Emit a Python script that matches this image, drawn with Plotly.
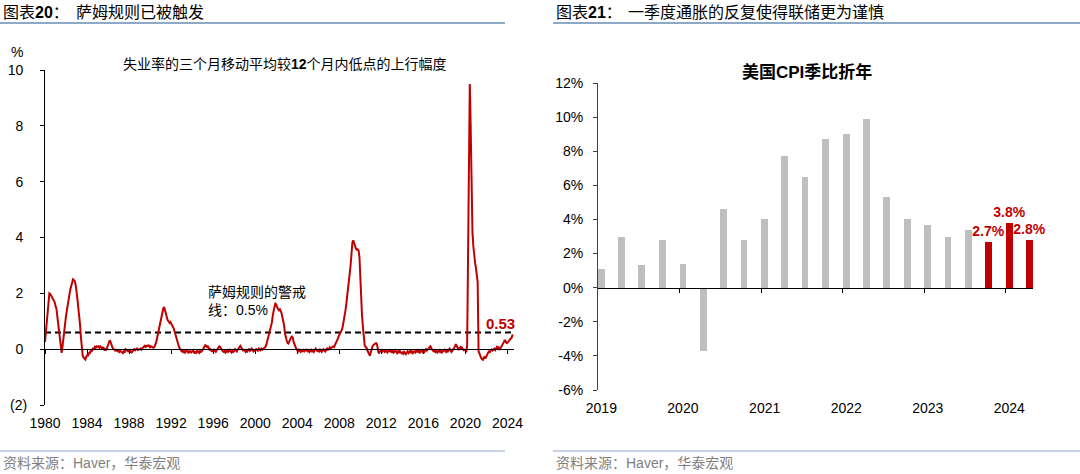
import pandas as pd
import plotly.graph_objects as go

# ---------------- data: left panel (Sahm-rule style indicator, monthly, %) ----------------
SAHM_START = "1980-01-01"
sahm_1980s = [
    0.26, 0.60, 0.95, 1.30, 1.65, 2.00, 1.98, 1.93, 1.88, 1.82, 1.75, 1.69,
    1.55, 1.45, 1.20, 0.92, 0.60, 0.32, 0.05, -0.13, 0.10, 0.44, 0.75, 0.98,
    1.20, 1.40, 1.64, 1.80, 1.97, 2.15, 2.30, 2.42, 2.50, 2.47, 2.44, 2.30,
    2.10, 1.80, 1.50, 1.27, 0.90, 0.44, 0.10, -0.21, -0.30, -0.33, -0.37, -0.28,
    -0.20, -0.25, -0.12, -0.17, -0.05, -0.10, 0.02, 0.05, -0.02, 0.08, 0.05, 0.10,
    0.08, 0.10, 0.05, 0.10, 0.07, 0.02, 0.06, 0.04, -0.04, 0.00, -0.02, 0.05,
    0.12, 0.22, 0.32, 0.25, 0.12, 0.06, 0.02, 0.00, -0.05, -0.02, -0.04, -0.08,
    -0.05, -0.10, -0.06, -0.08, -0.12, -0.14, -0.08, -0.10, 0.00, -0.03, -0.06, -0.08,
    -0.06, -0.02, -0.10, -0.12, -0.08, -0.05, 0.00, -0.04, -0.02, 0.02, -0.03, 0.00,
    0.00, 0.02, -0.02, 0.03, 0.07, 0.10, 0.12, 0.08, 0.12, 0.11, 0.14, 0.13,
]
sahm_1990s = [
    0.05, 0.10, 0.08, 0.06, 0.05, 0.08, 0.14, 0.25, 0.40, 0.55, 0.65, 0.85,
    1.05, 1.20, 1.33, 1.45, 1.51, 1.40, 1.25, 1.12, 1.04, 1.00, 0.95, 0.98,
    0.90, 0.86, 0.80, 0.74, 0.62, 0.50, 0.42, 0.30, 0.18, 0.08, 0.02, -0.05,
    -0.08, -0.06, -0.10, -0.05, -0.12, -0.08, -0.04, -0.10, -0.14, -0.06, -0.10, -0.12,
    -0.08, -0.04, -0.10, -0.16, -0.08, -0.12, -0.05, -0.10, -0.13, -0.06, -0.10, -0.08,
    -0.02, 0.04, 0.10, 0.14, 0.12, 0.08, 0.10, 0.02, -0.02, 0.00, -0.06, -0.04,
    -0.08, -0.02, -0.06, -0.10, -0.04, 0.00, 0.05, 0.10, 0.08, 0.02, -0.04, -0.08,
    -0.10, -0.06, -0.12, -0.08, -0.04, -0.10, -0.06, -0.02, -0.08, -0.12, -0.06, -0.10,
    -0.06, 0.00, -0.04, -0.08, -0.02, 0.04, 0.08, 0.12, 0.06, 0.00, -0.04, -0.02,
    -0.06, -0.10, -0.04, -0.08, -0.02, 0.00, -0.06, -0.03, 0.02, -0.04, -0.08, -0.05,
]
sahm_2000s = [
    -0.04, 0.00, -0.03, -0.06, 0.02, 0.00, -0.04, 0.02, -0.02, 0.00, 0.03, 0.06,
    0.10, 0.20, 0.32, 0.44, 0.55, 0.65, 0.74, 0.95, 1.20, 1.40, 1.52, 1.63,
    1.60, 1.50, 1.42, 1.40, 1.45, 1.38, 1.30, 1.15, 1.00, 0.85, 0.56, 0.40,
    0.30, 0.22, 0.20, 0.28, 0.38, 0.42, 0.45, 0.40, 0.25, 0.14, 0.06, 0.00,
    -0.04, -0.08, -0.02, -0.06, -0.10, -0.04, -0.07, -0.03, -0.08, -0.05, -0.02, -0.06,
    -0.08, -0.04, -0.10, -0.06, -0.02, -0.08, -0.05, -0.10, -0.04, 0.02, -0.03, -0.07,
    -0.04, -0.08, -0.02, -0.06, -0.10, -0.05, 0.00, -0.04, -0.08, -0.03, 0.02, -0.02,
    0.00, 0.06, 0.02, 0.05, 0.08, 0.10, 0.08, 0.14, 0.20, 0.28, 0.35, 0.44,
    0.50, 0.56, 0.62, 0.70, 0.82, 0.98, 1.15, 1.38, 1.62, 1.85, 2.10, 2.45,
    2.75, 3.06, 3.45, 3.83, 3.90, 3.77, 3.70, 3.60, 3.56, 3.58, 3.54, 3.30,
]
sahm_2010s = [
    2.58, 1.63, 1.20, 0.80, 0.45, 0.14, 0.08, 0.06, -0.04, -0.10, -0.16, -0.24,
    -0.10, 0.03, 0.10, 0.15, 0.18, 0.20, 0.22, 0.18, 0.05, -0.15, -0.10, -0.06,
    -0.04, -0.08, -0.03, -0.06, -0.10, -0.05, -0.08, -0.12, -0.06, -0.03, -0.08, -0.05,
    -0.10, -0.06, -0.12, -0.08, -0.04, -0.10, -0.14, -0.08, -0.12, -0.06, -0.10, -0.15,
    -0.12, -0.16, -0.10, -0.14, -0.18, -0.12, -0.08, -0.14, -0.10, -0.06, -0.12, -0.08,
    -0.14, -0.10, -0.06, -0.12, -0.08, -0.04, -0.10, -0.06, -0.12, -0.08, -0.04, -0.10,
    -0.06, -0.10, -0.04, 0.00, -0.05, 0.00, 0.03, 0.06, 0.10, 0.04, -0.02, -0.06,
    -0.08, -0.04, -0.10, -0.06, -0.12, -0.08, -0.04, -0.10, -0.06, -0.12, -0.08, -0.05,
    -0.02, -0.06, -0.10, -0.04, -0.08, -0.02, 0.02, -0.05, -0.10, -0.06, -0.02, 0.04,
    0.10, 0.18, 0.12, 0.06, 0.00, 0.04, -0.02, 0.08, 0.06, 0.00, -0.04, -0.02,
]
sahm_2020s = [
    -0.04, -0.07, 0.13, 3.90, 7.20, 9.50, 8.00, 5.80, 4.20, 3.70, 3.30, 3.10,
    2.90, 2.70, 2.40, -0.07, -0.17, -0.25, -0.32, -0.36, -0.38, -0.30, -0.28, -0.33,
    -0.25, -0.15, -0.12, -0.08, -0.10, -0.04, -0.01, -0.05, 0.00, 0.02, -0.03, 0.05,
    0.08, 0.03, 0.06, -0.03, 0.02, 0.10, 0.13, 0.18, 0.26, 0.33, 0.28, 0.22,
    0.23, 0.28, 0.32, 0.37, 0.38, 0.43, 0.53,
]
WARNING_LEVEL = 0.6
LEFT_TICK_YEARS = [1980, 1984, 1988, 1992, 1996, 2000, 2004, 2008, 2012, 2016, 2020, 2024]
LEFT_Y_TICKS = [-2, 0, 2, 4, 6, 8, 10]

# ---------------- data: right panel (US CPI q/q annualised, %) ----------------
CPI_START = "2019-01-01"
cpi_qoq_ann = [1.1, 3.0, 1.3, 2.8, 1.4, -3.7, 4.6, 2.8, 4.0, 7.7, 6.5, 8.7,
               9.0, 9.9, 5.3, 4.0, 3.7, 3.0, 3.4, 2.7, 3.8, 2.8]
HIGHLIGHT_FROM = "2023-10-01"
RIGHT_TICK_YEARS = [2019, 2020, 2021, 2022, 2023, 2024]
RIGHT_Y_TICKS = [-6, -4, -2, 0, 2, 4, 6, 8, 10, 12]

# ---------------- styling ----------------
W, H = 1080, 474
FONT = "Liberation Sans, Noto Sans CJK SC, sans-serif"
RED = "#C00000"
GREY_BAR = "#BFBFBF"
RULE = "#8EA9C8"
SRC_GREY = "#7F7F7F"

def xp(p):
    return p / W

def yp(p):
    return 1 - p / H

sahm = sahm_1980s + sahm_1990s + sahm_2000s + sahm_2010s + sahm_2020s
sahm_dates = pd.date_range(SAHM_START, periods=len(sahm), freq="MS")

cpi_dates = pd.date_range(CPI_START, periods=len(cpi_qoq_ann), freq="QS") + pd.Timedelta(days=15)
hl = pd.Timestamp(HIGHLIGHT_FROM)
bar_colors = [RED if d >= hl else GREY_BAR for d in cpi_dates]
bar_text = [f"{v:.1f}%" if d >= hl else "" for d, v in zip(cpi_dates, cpi_qoq_ann)]

# layout geometry
L_DOM_X = [xp(45), xp(514)]
L_DOM_Y = [yp(405), yp(70)]
L_RANGE_Y = [-2, 10]
L_RANGE_X = ["1980-01-01", "2024-08-15"]
R_DOM_X = [xp(598), xp(1033)]
R_DOM_Y = [yp(390), yp(83)]
R_RANGE_Y = [-6, 12]
R_RANGE_X = ["2019-01-01", "2024-05-01"]

def zero_pos(dom, rng):
    return dom[0] + (dom[1] - dom[0]) * (0 - rng[0]) / (rng[1] - rng[0])

fig = go.Figure()

# left: warning line + indicator
fig.add_trace(go.Scatter(
    x=[sahm_dates[0], sahm_dates[-1]], y=[WARNING_LEVEL, WARNING_LEVEL],
    mode="lines", line=dict(color="black", width=2, dash="6px,4px"),
    xaxis="x", yaxis="y", showlegend=False, hoverinfo="skip"))
fig.add_trace(go.Scatter(
    x=sahm_dates, y=sahm, mode="lines", line=dict(color=RED, width=2),
    xaxis="x", yaxis="y", showlegend=False))
fig.add_trace(go.Scatter(x=[sahm_dates[0]], y=[None], xaxis="x3", yaxis="y",
                         showlegend=False, hoverinfo="skip"))

# right: bars
fig.add_trace(go.Bar(
    x=cpi_dates, y=cpi_qoq_ann, marker=dict(color=bar_colors, line=dict(width=0)),
    width=30 * 24 * 3600 * 1000, text=bar_text, textposition="outside",
    textfont=dict(color=RED, size=14, family=FONT, weight="bold"),
    constraintext="none", cliponaxis=False,
    xaxis="x2", yaxis="y2", showlegend=False))
fig.add_trace(go.Scatter(x=[cpi_dates[0]], y=[None], xaxis="x4", yaxis="y2",
                         showlegend=False, hoverinfo="skip"))

tick_font = dict(family=FONT, size=14, color="black")

left_ticktext = [f"({abs(v)})" if v < 0 else f"{v}\u00a0" for v in LEFT_Y_TICKS]
right_ticktext = [f"{v}%" for v in RIGHT_Y_TICKS]

fig.update_layout(
    width=W, height=H, margin=dict(l=0, r=0, t=0, b=0, autoexpand=False),
    paper_bgcolor="white", plot_bgcolor="rgba(0,0,0,0)",
    font=dict(family=FONT, size=14, color="black"),
    bargap=0,
    xaxis=dict(domain=L_DOM_X, type="date", range=L_RANGE_X, anchor="y", automargin=False,
               tickvals=[f"{y}-01-01" for y in LEFT_TICK_YEARS],
               ticktext=[str(y) for y in LEFT_TICK_YEARS],
               ticks="", showline=False, showgrid=False, zeroline=False,
               tickfont=tick_font, ticklabelstandoff=8),
    xaxis3=dict(overlaying="x", anchor="free", position=zero_pos(L_DOM_Y, L_RANGE_Y),
                type="date", range=L_RANGE_X, automargin=False,
                tickvals=[f"{y}-01-01" for y in LEFT_TICK_YEARS],
                showticklabels=False, ticks="outside", ticklen=4, tickcolor="black",
                showline=True, linecolor="black", linewidth=1, showgrid=False, zeroline=False),
    yaxis=dict(domain=L_DOM_Y, range=L_RANGE_Y, anchor="x", automargin=False,
               tickvals=LEFT_Y_TICKS, ticktext=left_ticktext,
               ticks="outside", ticklen=4, tickcolor="black",
               showline=True, linecolor="black", linewidth=1,
               showgrid=False, zeroline=False, tickfont=tick_font, ticklabelstandoff=10),
    xaxis2=dict(domain=R_DOM_X, type="date", range=R_RANGE_X, anchor="y2", automargin=False,
                tickvals=[f"{y}-01-16" for y in RIGHT_TICK_YEARS],
                ticktext=[str(y) for y in RIGHT_TICK_YEARS],
                ticks="", showline=False, showgrid=False, zeroline=False,
                tickfont=tick_font, ticklabelstandoff=8),
    xaxis4=dict(overlaying="x2", anchor="free", position=zero_pos(R_DOM_Y, R_RANGE_Y),
                type="date", range=R_RANGE_X, automargin=False,
                tickvals=[f"{y}-01-01" for y in RIGHT_TICK_YEARS[1:]],
                showticklabels=False, ticks="outside", ticklen=4, tickcolor="black",
                showline=True, linecolor="black", linewidth=1, showgrid=False, zeroline=False),
    yaxis2=dict(domain=R_DOM_Y, range=R_RANGE_Y, anchor="x2", automargin=False,
                tickvals=RIGHT_Y_TICKS, ticktext=right_ticktext,
                ticks="outside", ticklen=4, tickcolor="#404040",
                showline=True, linecolor="#404040", linewidth=1,
                showgrid=False, zeroline=False, tickfont=tick_font, ticklabelstandoff=7),
)

# header/footer rules
for x0, x1 in [(0, 505), (553, 1080)]:
    fig.add_shape(type="line", xref="paper", yref="paper", x0=xp(x0), x1=xp(x1),
                  y0=yp(23), y1=yp(23), line=dict(color=RULE, width=2))
    fig.add_shape(type="line", xref="paper", yref="paper", x0=xp(x0), x1=xp(x1),
                  y0=yp(451), y1=yp(451), line=dict(color=RULE, width=1))

def ann(text, x, y, size=14, color="black", xanchor="left", **kw):
    fig.add_annotation(text=text, xref="paper", yref="paper", x=xp(x), y=yp(y),
                       xanchor=xanchor, yanchor="middle", showarrow=False,
                       font=dict(family=FONT, size=size, color=color), **kw)

# headers
ann("图表<b>20</b>：", 1, 12, size=16)
ann("萨姆规则已被触发", 74, 12, size=16)
ann("图表<b>21</b>：", 554, 12, size=16)
ann("一季度通胀的反复使得联储更为谨慎", 626, 12, size=16)

# sources
ann("资料来源：Haver，华泰宏观", 1, 463, size=14, color=SRC_GREY)
ann("资料来源：Haver，华泰宏观", 554, 463, size=14, color=SRC_GREY)

# left chart texts
ann("%", 9, 52, size=14)
ann("失业率的三个月移动平均较<b>12</b>个月内低点的上行幅度", 285, 64, size=14, xanchor="center")
ann("萨姆规则的警戒<br>线：0.5%", 206, 301, size=14, align="left")
fig.add_annotation(text=f"<b>{sahm[-1]:.2f}</b>", x=sahm_dates[-1], y=sahm[-1],
                   xref="x", yref="y", xanchor="right", yanchor="middle",
                   xshift=4, yshift=11, showarrow=False,
                   font=dict(family=FONT, size=15, color=RED))

# right chart title
ann("<b>美国CPI季比折年</b>", 807, 72, size=17, xanchor="center")

fig.write_html(
    "out.html",
    config={"displayModeBar": False},
    post_script="document.body.style.margin='0';document.body.style.overflow='hidden';",
)
